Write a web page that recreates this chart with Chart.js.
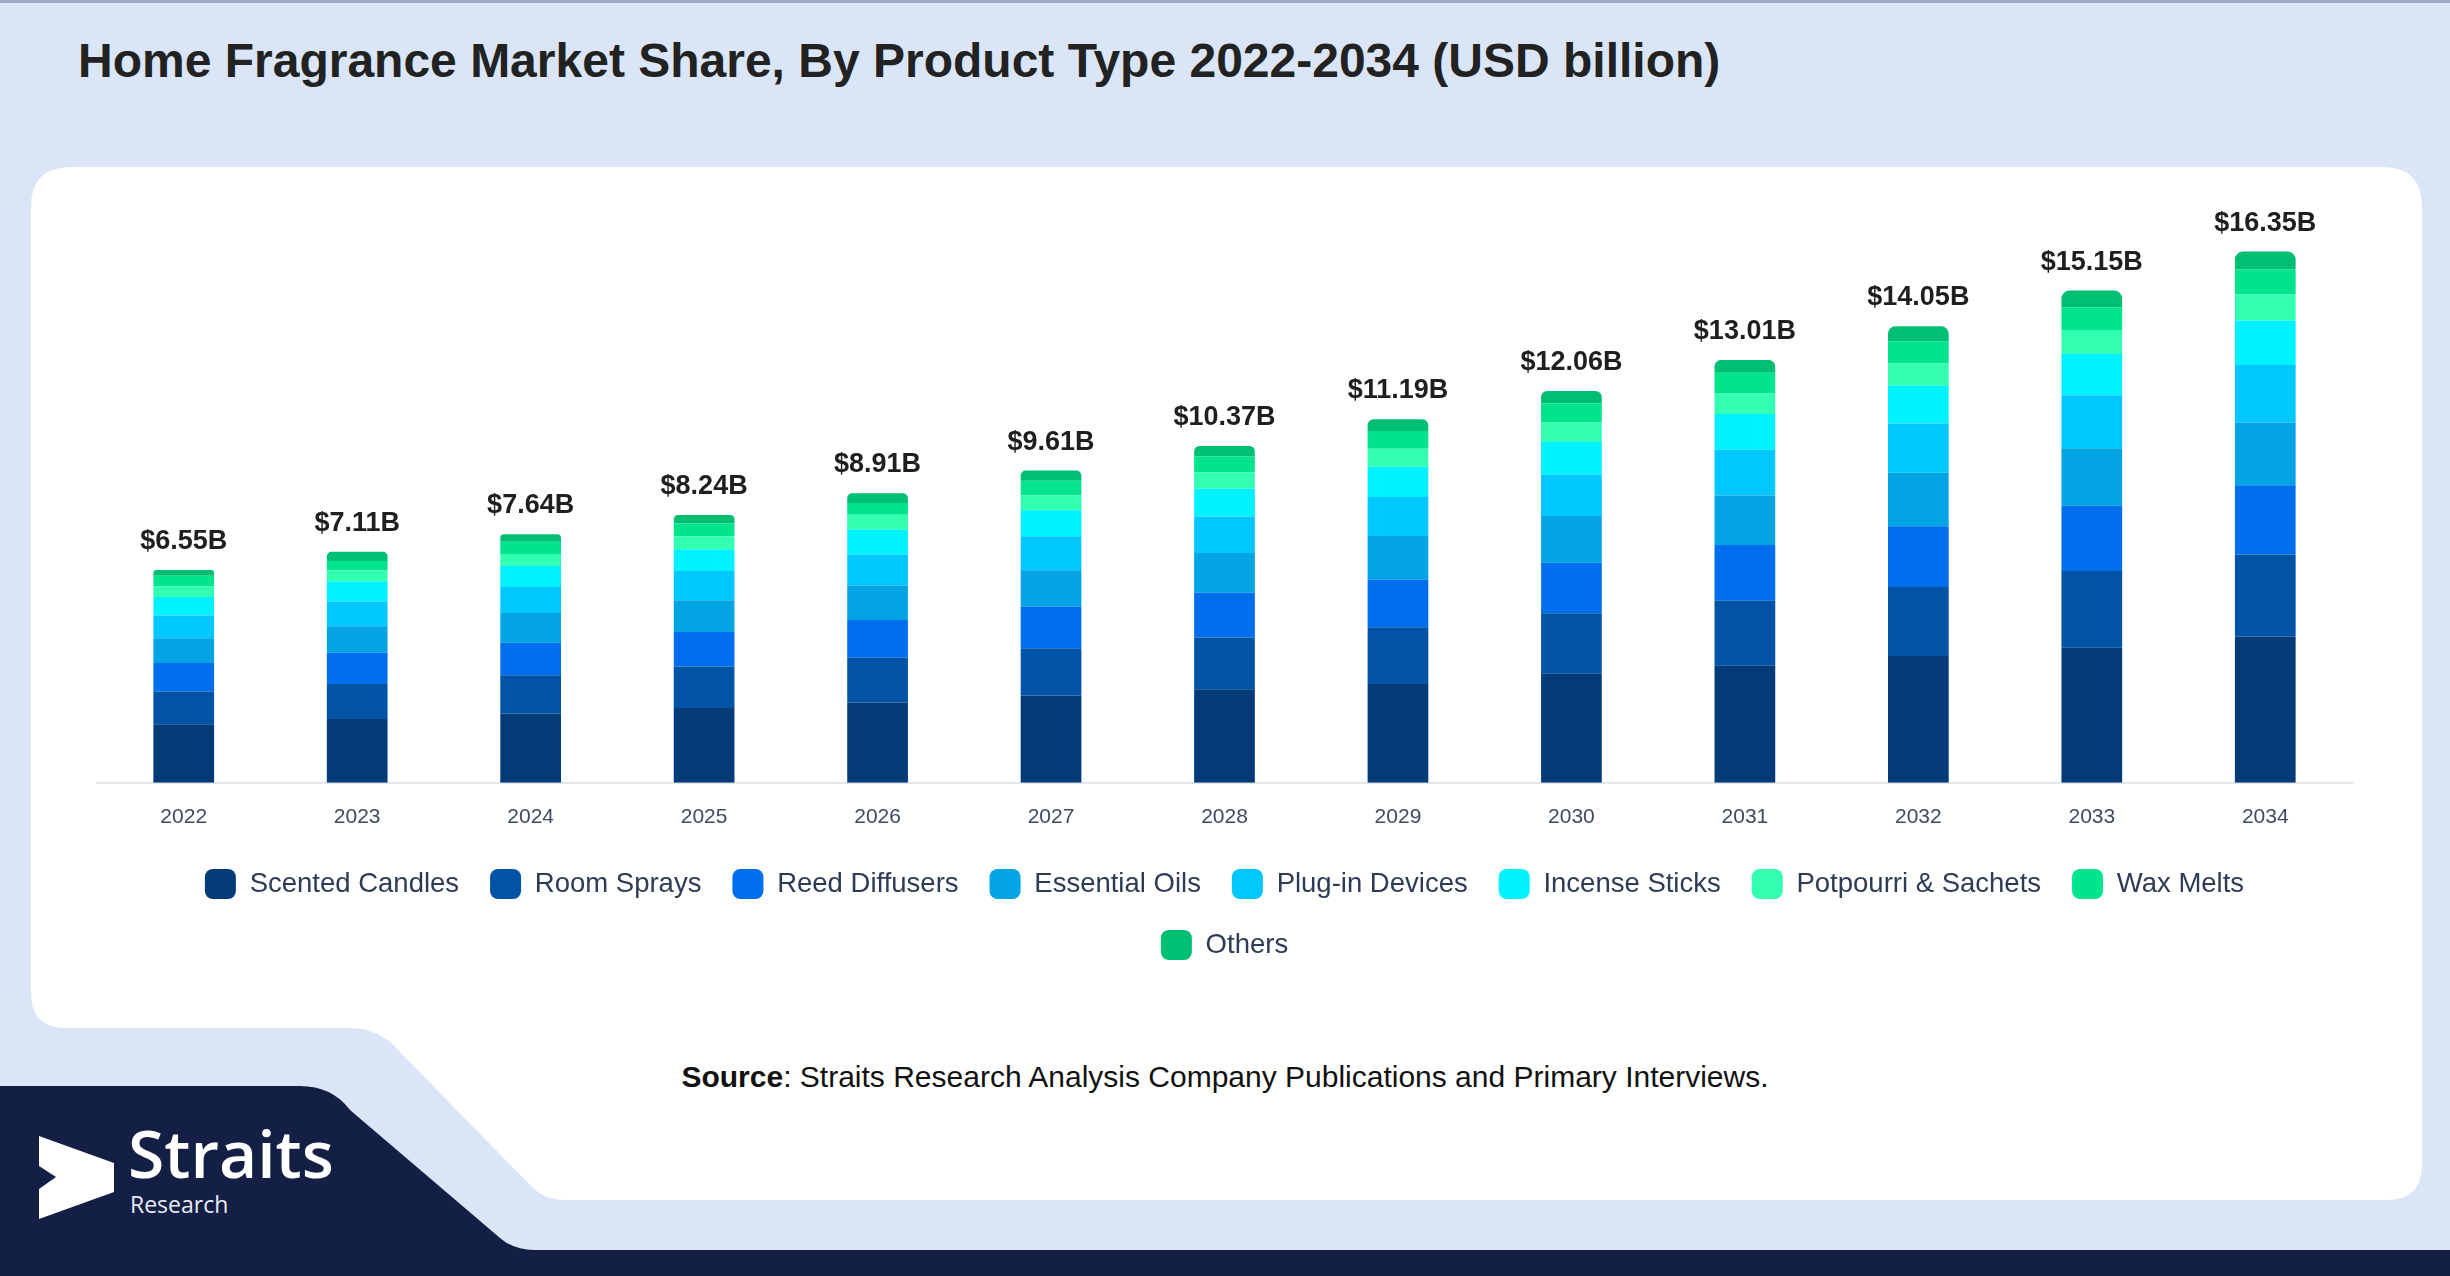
<!DOCTYPE html>
<html>
<head>
<meta charset="utf-8">
<title>Home Fragrance Market Share</title>
<script src="https://cdn.jsdelivr.net/npm/chart.js@4.4.1/dist/chart.umd.min.js"></script>
<style>
  html, body { margin: 0; padding: 0; }
  body {
    width: 2450px; height: 1276px; position: relative; overflow: hidden;
    background: #dae6f8; font-family: "Liberation Sans", Arial, sans-serif;
  }
  #bg { position: absolute; left: 0; top: 0; }
  #title {
    position: absolute; left: 78px; top: 33px;
    font-size: 48px; font-weight: bold; color: #222;
  }
  #chart-wrap { position: absolute; left: 40px; top: 175px; width: 2370px; height: 805px; }
  #source {
    position: absolute; left: 0; width: 2450px; top: 1060px; text-align: center;
    font-size: 30px; color: #111;
  }
  #logo-text {
    position: absolute; left: 128px; top: 1119px; color: #fff;
    font-family: "Open Sans", sans-serif; font-weight: 600; font-size: 66px; line-height: 1;
  }
  #logo-sub {
    position: absolute; left: 130px; top: 1193px; color: #e8ecf4;
    font-family: "Open Sans", sans-serif; font-size: 23px; line-height: 1;
  }
</style>
</head>
<body>
<svg id="bg" width="2450" height="1276">
  <rect x="0" y="0" width="2450" height="3" fill="#9eabc9"/>
  <path d="M 71 167 H 2382 Q 2422 167 2422 207 V 1165 Q 2422 1200 2387 1200 H 565 Q 545 1200 532 1187 L 400 1052 Q 380 1028 350 1028 H 66 Q 31 1028 31 993 V 207 Q 31 167 71 167 Z" fill="#ffffff"/>
  <path d="M 0 1086 H 300 Q 332 1086 350 1110 L 500 1238 Q 514 1250 534 1250 H 2450 V 1276 H 0 Z" fill="#131f45"/>
  <path d="M 39 1136 L 114 1163 L 114 1192 L 39 1219 L 39 1189 L 56 1177 L 39 1166 Z" fill="#ffffff"/>
</svg>

<div id="title">Home Fragrance Market Share, By Product Type 2022-2034 (USD billion)</div>
<div id="chart-wrap"><canvas id="marketChart"></canvas></div>
<div id="source"><b>Source</b>: Straits Research Analysis Company Publications and Primary Interviews.</div>
<div id="logo-text">Straits</div>
<div id="logo-sub">Research</div>

<script>
// Years on the x axis
const years = ['2022', '2023', '2024', '2025', '2026', '2027', '2028', '2029', '2030', '2031', '2032', '2033', '2034'];

// Segment values (USD billion)
const scentedCandles = [1.80, 1.96, 2.13, 2.30, 2.47, 2.69, 2.88, 3.04, 3.36, 3.60, 3.90, 4.16, 4.50];
const roomSprays     = [1.01, 1.08, 1.18, 1.28, 1.38, 1.45, 1.59, 1.75, 1.86, 2.00, 2.13, 2.36, 2.53];
const reedDiffusers  = [0.88, 0.96, 1.00, 1.06, 1.16, 1.29, 1.38, 1.47, 1.55, 1.72, 1.87, 2.01, 2.13];
const essentialOils  = [0.76, 0.82, 0.92, 0.98, 1.06, 1.11, 1.22, 1.34, 1.44, 1.52, 1.64, 1.77, 1.93];
const plugInDevices  = [0.70, 0.76, 0.80, 0.90, 0.95, 1.05, 1.13, 1.20, 1.27, 1.41, 1.52, 1.63, 1.77];
const incenseSticks  = [0.57, 0.62, 0.64, 0.67, 0.77, 0.80, 0.85, 0.93, 1.01, 1.10, 1.16, 1.27, 1.37];
const potpourri      = [0.33, 0.34, 0.37, 0.40, 0.46, 0.45, 0.51, 0.55, 0.60, 0.63, 0.69, 0.74, 0.81];
const waxMelts       = [0.32, 0.29, 0.38, 0.39, 0.36, 0.46, 0.48, 0.55, 0.59, 0.64, 0.68, 0.70, 0.76];
const others         = [0.18, 0.28, 0.23, 0.26, 0.30, 0.31, 0.33, 0.36, 0.38, 0.39, 0.46, 0.51, 0.55];

// Totals printed above each bar
const totals = [6.55, 7.11, 7.64, 8.24, 8.91, 9.61, 10.37, 11.19, 12.06, 13.01, 14.05, 15.15, 16.35];

Chart.defaults.font.family = '"Liberation Sans", Arial, sans-serif';

function makeSet(label, data, color) {
  return {
    label: label,
    data: data,
    backgroundColor: color,
    borderWidth: 0,
    barPercentage: 0.35,
    categoryPercentage: 1.0
  };
}

const datasets = [
  makeSet('Scented Candles', scentedCandles, '#033b78'),
  makeSet('Room Sprays', roomSprays, '#0153a6'),
  makeSet('Reed Diffusers', reedDiffusers, '#016eed'),
  makeSet('Essential Oils', essentialOils, '#02a4e3'),
  makeSet('Plug-in Devices', plugInDevices, '#00c8ff'),
  makeSet('Incense Sticks', incenseSticks, '#00f2fe'),
  makeSet('Potpourri & Sachets', potpourri, '#33ffb3'),
  makeSet('Wax Melts', waxMelts, '#00e48c'),
  makeSet('Others', others, '#00bf73')
];
// round only the top of each stack
datasets[datasets.length - 1].borderRadius = { topLeft: 8, topRight: 8, bottomLeft: 0, bottomRight: 0 };
datasets[datasets.length - 1].borderSkipped = false;

// Draws the "$x.xxB" totals above the stacks
const totalLabels = {
  id: 'totalLabels',
  afterDatasetsDraw(chart) {
    const ctx = chart.ctx;
    const topMeta = chart.getDatasetMeta(chart.data.datasets.length - 1);
    ctx.save();
    ctx.font = 'bold 27px "Liberation Sans", Arial, sans-serif';
    ctx.fillStyle = '#1f1f1f';
    ctx.textAlign = 'center';
    ctx.textBaseline = 'bottom';
    topMeta.data.forEach((bar, i) => {
      ctx.fillText('$' + totals[i].toFixed(2) + 'B', bar.x, bar.y - 15);
    });
    ctx.restore();
  }
};

new Chart(document.getElementById('marketChart'), {
  type: 'bar',
  data: { labels: years, datasets: datasets },
  plugins: [totalLabels],
  options: {
    responsive: true,
    maintainAspectRatio: false,
    animation: false,
    layout: { padding: { left: 57, right: 58, top: 23, bottom: 10 } },
    scales: {
      x: {
        stacked: true,
        grid: { display: false },
        border: { color: '#e3e6ea', width: 2 },
        ticks: { color: '#3d4b63', font: { size: 21 }, padding: 14 },
        afterFit: (scale) => { scale.height -= 6; } // pull the legend a little closer
      },
      y: {
        stacked: true,
        display: false,
        min: 0,
        max: 18
      }
    },
    plugins: {
      legend: {
        position: 'bottom',
        labels: {
          boxWidth: 31,
          boxHeight: 30,
          useBorderRadius: true,
          borderRadius: 8,
          padding: 31,
          color: '#2d3b55',
          font: { size: 27.5 }
        }
      },
      tooltip: { enabled: false }
    }
  }
});
</script>
</body>
</html>
